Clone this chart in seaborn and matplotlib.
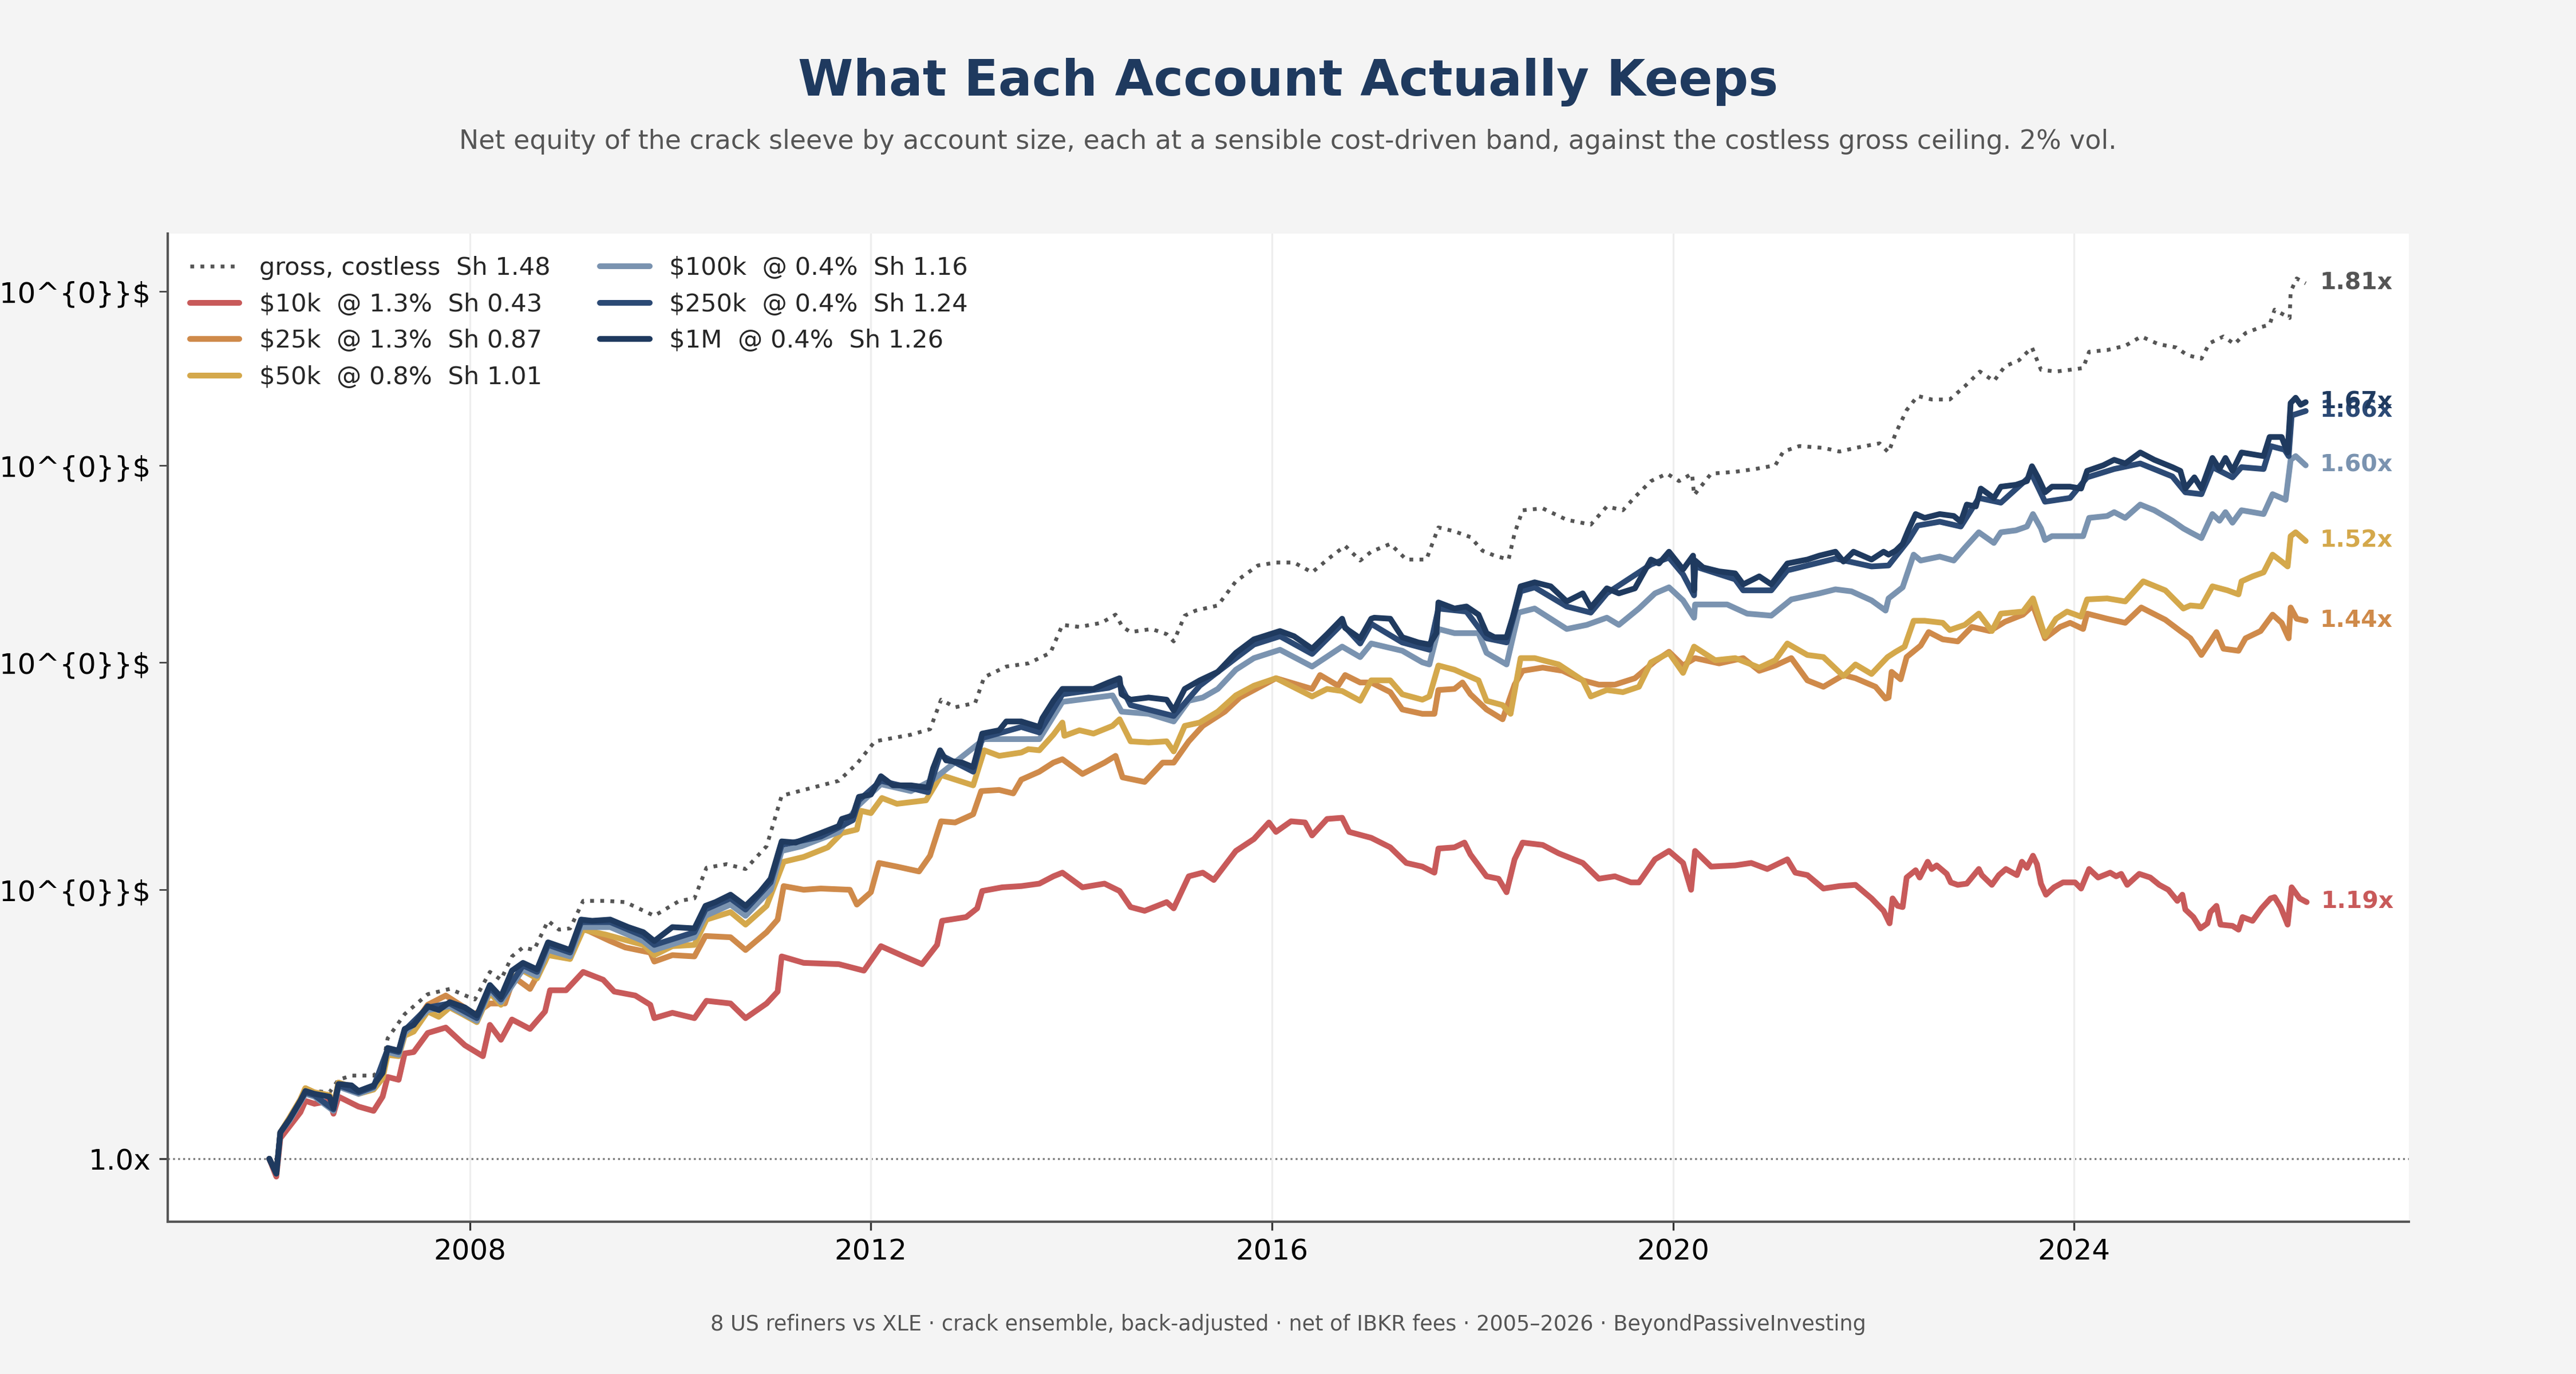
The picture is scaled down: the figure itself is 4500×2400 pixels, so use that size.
import matplotlib
matplotlib.use("Agg")
import matplotlib.pyplot as plt
from matplotlib import ticker
import pandas as pd
import seaborn as sns


# equity multiples, per account size
gross_years = [2006.00, 2006.07, 2006.11, 2006.20, 2006.31, 2006.36, 2006.45, 2006.60, 2006.69, 2006.82,
               2007.04, 2007.13, 2007.18, 2007.35, 2007.58, 2007.80, 2008.05, 2008.20, 2008.31, 2008.42,
               2008.53, 2008.64, 2008.78, 2008.89, 2009.00, 2009.13, 2009.36, 2009.55, 2009.84, 2010.09,
               2010.24, 2010.36, 2010.56, 2010.75, 2010.96, 2011.11, 2011.33, 2011.68, 2011.86, 2012.04,
               2012.40, 2012.59, 2012.70, 2012.84, 2013.04, 2013.13, 2013.35, 2013.57, 2013.79, 2013.91,
               2014.08, 2014.30, 2014.44, 2014.51, 2014.59, 2014.80, 2014.95, 2015.02, 2015.13, 2015.24,
               2015.46, 2015.64, 2015.86, 2016.04, 2016.22, 2016.40, 2016.59, 2016.73, 2016.88, 2016.99,
               2017.18, 2017.34, 2017.54, 2017.66, 2017.82, 2017.98, 2018.10, 2018.22, 2018.36, 2018.42,
               2018.50, 2018.70, 2018.94, 2019.18, 2019.34, 2019.50, 2019.62, 2019.78, 2019.94, 2020.06,
               2020.19, 2020.21, 2020.38, 2020.62, 2020.82, 2021.02, 2021.10, 2021.26, 2021.50, 2021.66,
               2021.82, 2022.06, 2022.15, 2022.22, 2022.33, 2022.44, 2022.58, 2022.76, 2022.91, 2023.06,
               2023.20, 2023.31, 2023.45, 2023.58, 2023.67, 2023.82, 2023.96, 2024.09, 2024.15, 2024.33,
               2024.51, 2024.67, 2024.84, 2025.02, 2025.13, 2025.27, 2025.35, 2025.49, 2025.60, 2025.71,
               2025.86, 2025.95, 2026.00, 2026.15, 2026.16, 2026.22, 2026.31]
gross_vals = [1.000, 0.990, 1.018, 1.027, 1.041, 1.048, 1.047, 1.046, 1.055, 1.058,
              1.058, 1.064, 1.085, 1.103, 1.118, 1.122, 1.114, 1.135, 1.129, 1.147,
              1.154, 1.152, 1.175, 1.168, 1.169, 1.191, 1.191, 1.190, 1.179, 1.191,
              1.193, 1.218, 1.221, 1.217, 1.236, 1.279, 1.284, 1.292, 1.307, 1.327,
              1.333, 1.338, 1.365, 1.358, 1.362, 1.386, 1.396, 1.399, 1.409, 1.436,
              1.434, 1.438, 1.446, 1.434, 1.429, 1.432, 1.427, 1.420, 1.445, 1.450,
              1.455, 1.479, 1.495, 1.498, 1.498, 1.488, 1.504, 1.515, 1.500, 1.509,
              1.517, 1.501, 1.501, 1.534, 1.530, 1.524, 1.510, 1.505, 1.501, 1.528,
              1.552, 1.554, 1.542, 1.537, 1.556, 1.552, 1.566, 1.583, 1.591, 1.583,
              1.591, 1.568, 1.591, 1.593, 1.596, 1.600, 1.615, 1.621, 1.619, 1.615,
              1.619, 1.624, 1.614, 1.635, 1.661, 1.677, 1.673, 1.673, 1.688, 1.705,
              1.694, 1.711, 1.718, 1.733, 1.707, 1.705, 1.707, 1.709, 1.728, 1.730,
              1.735, 1.746, 1.737, 1.733, 1.724, 1.720, 1.738, 1.746, 1.737, 1.750,
              1.757, 1.760, 1.778, 1.768, 1.800, 1.816, 1.810]

k10_years = [2006.00, 2006.07, 2006.11, 2006.31, 2006.36, 2006.45, 2006.60, 2006.64, 2006.69, 2006.89,
             2007.04, 2007.13, 2007.18, 2007.29, 2007.35, 2007.44, 2007.58, 2007.76, 2007.95, 2008.13,
             2008.20, 2008.31, 2008.42, 2008.60, 2008.75, 2008.80, 2008.96, 2009.13, 2009.33, 2009.44,
             2009.65, 2009.80, 2009.84, 2010.02, 2010.24, 2010.36, 2010.60, 2010.75, 2010.96, 2011.07,
             2011.11, 2011.33, 2011.68, 2011.93, 2012.10, 2012.33, 2012.51, 2012.66, 2012.71, 2012.95,
             2013.06, 2013.11, 2013.31, 2013.50, 2013.68, 2013.82, 2013.91, 2014.11, 2014.33, 2014.48,
             2014.59, 2014.73, 2014.95, 2015.02, 2015.17, 2015.31, 2015.42, 2015.64, 2015.82, 2015.97,
             2016.04, 2016.19, 2016.33, 2016.40, 2016.55, 2016.70, 2016.77, 2016.99, 2017.18, 2017.34,
             2017.50, 2017.62, 2017.66, 2017.82, 2017.92, 2017.98, 2018.14, 2018.26, 2018.34, 2018.42,
             2018.50, 2018.70, 2018.86, 2019.10, 2019.26, 2019.42, 2019.58, 2019.66, 2019.82, 2019.96,
             2020.10, 2020.18, 2020.22, 2020.38, 2020.62, 2020.78, 2020.94, 2021.14, 2021.22, 2021.34,
             2021.50, 2021.66, 2021.82, 2021.98, 2022.10, 2022.16, 2022.19, 2022.24, 2022.29, 2022.33,
             2022.42, 2022.46, 2022.54, 2022.58, 2022.63, 2022.73, 2022.77, 2022.84, 2022.93, 2023.05,
             2023.08, 2023.18, 2023.25, 2023.32, 2023.43, 2023.48, 2023.53, 2023.59, 2023.63, 2023.67,
             2023.72, 2023.80, 2023.89, 2024.01, 2024.07, 2024.15, 2024.24, 2024.36, 2024.42, 2024.47,
             2024.53, 2024.65, 2024.76, 2024.85, 2024.94, 2025.03, 2025.08, 2025.11, 2025.19, 2025.26,
             2025.33, 2025.36, 2025.42, 2025.46, 2025.58, 2025.64, 2025.68, 2025.78, 2025.87, 2025.96,
             2026.00, 2026.06, 2026.13, 2026.17, 2026.25, 2026.32]
k10_vals = [1.000, 0.988, 1.014, 1.032, 1.040, 1.038, 1.040, 1.031, 1.043, 1.036,
            1.033, 1.043, 1.057, 1.055, 1.074, 1.075, 1.089, 1.093, 1.080, 1.072,
            1.095, 1.084, 1.099, 1.092, 1.105, 1.121, 1.121, 1.135, 1.129, 1.120,
            1.117, 1.110, 1.100, 1.104, 1.100, 1.113, 1.111, 1.100, 1.111, 1.120,
            1.147, 1.142, 1.141, 1.136, 1.155, 1.147, 1.141, 1.156, 1.175, 1.178,
            1.185, 1.199, 1.202, 1.203, 1.205, 1.211, 1.214, 1.202, 1.205, 1.199,
            1.186, 1.183, 1.190, 1.185, 1.211, 1.214, 1.208, 1.232, 1.242, 1.256,
            1.248, 1.257, 1.256, 1.245, 1.259, 1.260, 1.248, 1.243, 1.235, 1.222,
            1.219, 1.214, 1.234, 1.235, 1.239, 1.229, 1.211, 1.209, 1.198, 1.225,
            1.239, 1.237, 1.230, 1.222, 1.209, 1.211, 1.206, 1.206, 1.225, 1.232,
            1.222, 1.200, 1.232, 1.219, 1.220, 1.222, 1.217, 1.225, 1.214, 1.212,
            1.201, 1.203, 1.204, 1.193, 1.183, 1.173, 1.193, 1.187, 1.186, 1.210,
            1.216, 1.210, 1.223, 1.217, 1.220, 1.213, 1.206, 1.204, 1.205, 1.217,
            1.212, 1.204, 1.212, 1.217, 1.212, 1.223, 1.218, 1.228, 1.221, 1.205,
            1.196, 1.202, 1.206, 1.206, 1.201, 1.217, 1.210, 1.214, 1.211, 1.213,
            1.204, 1.213, 1.210, 1.204, 1.200, 1.191, 1.196, 1.184, 1.178, 1.169,
            1.173, 1.182, 1.187, 1.172, 1.171, 1.168, 1.178, 1.175, 1.185, 1.193,
            1.194, 1.186, 1.172, 1.202, 1.193, 1.190]

k25_years = [2006.00, 2006.07, 2006.11, 2006.20, 2006.31, 2006.36, 2006.45, 2006.60, 2006.64, 2006.69,
             2006.89, 2007.04, 2007.13, 2007.18, 2007.29, 2007.35, 2007.44, 2007.58, 2007.76, 2008.05,
             2008.20, 2008.35, 2008.44, 2008.60, 2008.75, 2008.80, 2008.96, 2009.13, 2009.40, 2009.55,
             2009.80, 2009.84, 2010.02, 2010.24, 2010.35, 2010.60, 2010.75, 2010.96, 2011.07, 2011.13,
             2011.33, 2011.50, 2011.79, 2011.86, 2012.00, 2012.08, 2012.26, 2012.48, 2012.59, 2012.70,
             2012.84, 2013.02, 2013.10, 2013.28, 2013.42, 2013.50, 2013.68, 2013.82, 2013.91, 2014.11,
             2014.33, 2014.44, 2014.51, 2014.73, 2014.91, 2015.02, 2015.17, 2015.31, 2015.53, 2015.68,
             2015.90, 2016.04, 2016.40, 2016.48, 2016.66, 2016.73, 2016.88, 2016.99, 2017.18, 2017.30,
             2017.50, 2017.62, 2017.66, 2017.82, 2017.90, 2017.98, 2018.14, 2018.30, 2018.42, 2018.50,
             2018.70, 2018.90, 2019.10, 2019.26, 2019.42, 2019.62, 2019.82, 2019.96, 2020.10, 2020.22,
             2020.46, 2020.70, 2020.86, 2021.02, 2021.18, 2021.34, 2021.50, 2021.70, 2021.82, 2022.02,
             2022.12, 2022.15, 2022.18, 2022.27, 2022.33, 2022.47, 2022.55, 2022.69, 2022.84, 2022.98,
             2023.16, 2023.31, 2023.49, 2023.59, 2023.71, 2023.86, 2023.96, 2024.09, 2024.13, 2024.33,
             2024.51, 2024.67, 2024.91, 2025.06, 2025.16, 2025.27, 2025.42, 2025.49, 2025.64, 2025.71,
             2025.86, 2025.98, 2026.07, 2026.14, 2026.16, 2026.22, 2026.31]
k25_vals = [1.000, 0.990, 1.018, 1.028, 1.041, 1.049, 1.046, 1.044, 1.036, 1.053,
            1.046, 1.049, 1.058, 1.076, 1.075, 1.091, 1.095, 1.110, 1.117, 1.103,
            1.111, 1.111, 1.131, 1.122, 1.143, 1.154, 1.148, 1.169, 1.159, 1.154,
            1.150, 1.143, 1.148, 1.147, 1.163, 1.162, 1.152, 1.166, 1.176, 1.203,
            1.200, 1.201, 1.200, 1.188, 1.198, 1.222, 1.219, 1.215, 1.228, 1.257,
            1.256, 1.263, 1.283, 1.284, 1.281, 1.293, 1.300, 1.308, 1.311, 1.298,
            1.308, 1.314, 1.295, 1.291, 1.308, 1.308, 1.327, 1.341, 1.354, 1.367,
            1.378, 1.385, 1.375, 1.388, 1.378, 1.388, 1.381, 1.381, 1.372, 1.356,
            1.352, 1.352, 1.374, 1.375, 1.381, 1.370, 1.356, 1.347, 1.379, 1.392,
            1.395, 1.392, 1.383, 1.379, 1.379, 1.385, 1.401, 1.410, 1.397, 1.404,
            1.399, 1.404, 1.392, 1.397, 1.404, 1.383, 1.377, 1.388, 1.385, 1.377,
            1.366, 1.367, 1.391, 1.384, 1.405, 1.416, 1.429, 1.422, 1.420, 1.434,
            1.430, 1.439, 1.446, 1.455, 1.423, 1.434, 1.438, 1.432, 1.447, 1.442,
            1.438, 1.453, 1.441, 1.430, 1.423, 1.407, 1.429, 1.413, 1.411, 1.423,
            1.430, 1.446, 1.438, 1.423, 1.453, 1.442, 1.440]

k50_years = [2006.00, 2006.07, 2006.11, 2006.20, 2006.31, 2006.36, 2006.45, 2006.60, 2006.64, 2006.69,
             2006.82, 2006.89, 2007.04, 2007.13, 2007.18, 2007.29, 2007.35, 2007.44, 2007.58, 2007.69,
             2007.80, 2007.95, 2008.07, 2008.20, 2008.31, 2008.42, 2008.53, 2008.67, 2008.78, 2009.00,
             2009.13, 2009.36, 2009.73, 2009.84, 2010.02, 2010.24, 2010.36, 2010.60, 2010.75, 2010.96,
             2011.13, 2011.33, 2011.57, 2011.71, 2011.86, 2011.90, 2012.00, 2012.11, 2012.26, 2012.55,
             2012.64, 2012.70, 2013.02, 2013.13, 2013.28, 2013.50, 2013.57, 2013.68, 2013.82, 2013.91,
             2013.93, 2014.08, 2014.22, 2014.41, 2014.48, 2014.59, 2014.77, 2014.95, 2015.02, 2015.13,
             2015.28, 2015.46, 2015.64, 2015.82, 2016.04, 2016.40, 2016.55, 2016.70, 2016.88, 2016.99,
             2017.18, 2017.30, 2017.50, 2017.57, 2017.66, 2017.82, 2017.94, 2018.06, 2018.14, 2018.30,
             2018.38, 2018.48, 2018.62, 2018.86, 2019.10, 2019.18, 2019.34, 2019.50, 2019.66, 2019.78,
             2019.96, 2020.10, 2020.21, 2020.42, 2020.62, 2020.86, 2021.02, 2021.14, 2021.34, 2021.50,
             2021.70, 2021.82, 2021.98, 2022.14, 2022.22, 2022.31, 2022.40, 2022.51, 2022.69, 2022.76,
             2022.91, 2023.05, 2023.18, 2023.27, 2023.49, 2023.59, 2023.71, 2023.82, 2023.93, 2024.07,
             2024.13, 2024.33, 2024.51, 2024.69, 2024.91, 2025.09, 2025.16, 2025.27, 2025.38, 2025.53,
             2025.64, 2025.67, 2025.78, 2025.89, 2025.98, 2026.07, 2026.13, 2026.16, 2026.21, 2026.31]
k50_vals = [1.000, 0.990, 1.018, 1.028, 1.041, 1.049, 1.046, 1.044, 1.036, 1.053,
            1.050, 1.045, 1.048, 1.056, 1.073, 1.072, 1.087, 1.090, 1.105, 1.101,
            1.108, 1.102, 1.097, 1.119, 1.110, 1.130, 1.136, 1.130, 1.148, 1.145,
            1.168, 1.164, 1.156, 1.148, 1.155, 1.156, 1.176, 1.182, 1.172, 1.187,
            1.223, 1.227, 1.235, 1.247, 1.250, 1.266, 1.264, 1.277, 1.272, 1.275,
            1.288, 1.297, 1.288, 1.319, 1.314, 1.317, 1.320, 1.319, 1.333, 1.344,
            1.332, 1.337, 1.334, 1.341, 1.347, 1.327, 1.326, 1.327, 1.318, 1.341,
            1.344, 1.354, 1.369, 1.378, 1.385, 1.368, 1.375, 1.373, 1.364, 1.383,
            1.383, 1.370, 1.365, 1.368, 1.397, 1.393, 1.388, 1.383, 1.364, 1.360,
            1.352, 1.404, 1.404, 1.398, 1.383, 1.368, 1.374, 1.372, 1.377, 1.400,
            1.409, 1.390, 1.415, 1.402, 1.404, 1.395, 1.402, 1.418, 1.407, 1.405,
            1.387, 1.398, 1.389, 1.405, 1.410, 1.415, 1.440, 1.440, 1.438, 1.431,
            1.436, 1.447, 1.430, 1.447, 1.449, 1.462, 1.425, 1.442, 1.449, 1.444,
            1.461, 1.462, 1.459, 1.479, 1.470, 1.452, 1.455, 1.454, 1.474, 1.470,
            1.466, 1.479, 1.484, 1.488, 1.506, 1.499, 1.494, 1.525, 1.529, 1.520]

k100_years = [2006.00, 2006.07, 2006.11, 2006.20, 2006.31, 2006.36, 2006.45, 2006.64, 2006.69, 2006.89,
              2007.04, 2007.18, 2007.29, 2007.35, 2007.58, 2007.80, 2008.07, 2008.20, 2008.31, 2008.53,
              2008.67, 2008.78, 2009.00, 2009.11, 2009.40, 2009.73, 2009.84, 2010.24, 2010.35, 2010.60,
              2010.75, 2011.00, 2011.11, 2011.31, 2011.68, 2011.88, 2012.10, 2012.40, 2012.62, 2013.13,
              2013.68, 2013.91, 2014.41, 2014.50, 2014.77, 2015.02, 2015.17, 2015.31, 2015.46, 2015.64,
              2015.82, 2016.08, 2016.40, 2016.70, 2016.88, 2016.99, 2017.30, 2017.50, 2017.57, 2017.66,
              2017.82, 2018.06, 2018.14, 2018.34, 2018.46, 2018.62, 2018.94, 2019.14, 2019.34, 2019.46,
              2019.66, 2019.82, 2019.96, 2020.10, 2020.21, 2020.22, 2020.54, 2020.74, 2020.98, 2021.18,
              2021.46, 2021.62, 2021.78, 2021.98, 2022.12, 2022.15, 2022.29, 2022.40, 2022.47, 2022.66,
              2022.80, 2022.91, 2023.05, 2023.20, 2023.27, 2023.42, 2023.53, 2023.59, 2023.67, 2023.71,
              2023.78, 2023.96, 2024.09, 2024.15, 2024.33, 2024.40, 2024.51, 2024.66, 2024.80, 2024.98,
              2025.09, 2025.16, 2025.27, 2025.38, 2025.45, 2025.51, 2025.58, 2025.67, 2025.89, 2025.98,
              2026.11, 2026.16, 2026.21, 2026.31]
k100_vals = [1.000, 0.990, 1.018, 1.026, 1.039, 1.045, 1.043, 1.033, 1.050, 1.045,
             1.049, 1.075, 1.073, 1.089, 1.106, 1.109, 1.098, 1.121, 1.112, 1.137,
             1.132, 1.152, 1.147, 1.170, 1.170, 1.159, 1.152, 1.162, 1.179, 1.188,
             1.179, 1.200, 1.232, 1.236, 1.248, 1.271, 1.289, 1.283, 1.293, 1.329,
             1.329, 1.363, 1.369, 1.354, 1.352, 1.345, 1.364, 1.367, 1.375, 1.393,
             1.404, 1.412, 1.396, 1.415, 1.405, 1.418, 1.411, 1.400, 1.398, 1.432,
             1.428, 1.428, 1.409, 1.398, 1.448, 1.452, 1.432, 1.436, 1.443, 1.436,
             1.452, 1.467, 1.473, 1.460, 1.443, 1.456, 1.456, 1.447, 1.445, 1.461,
             1.467, 1.471, 1.469, 1.460, 1.450, 1.462, 1.473, 1.506, 1.500, 1.504,
             1.500, 1.513, 1.529, 1.518, 1.529, 1.531, 1.535, 1.548, 1.533, 1.521,
             1.525, 1.525, 1.525, 1.544, 1.546, 1.550, 1.544, 1.558, 1.552, 1.541,
             1.533, 1.529, 1.523, 1.548, 1.541, 1.550, 1.539, 1.552, 1.548, 1.569,
             1.563, 1.606, 1.610, 1.600]

k250_years = [2006.00, 2006.07, 2006.11, 2006.20, 2006.31, 2006.36, 2006.45, 2006.64, 2006.69, 2006.89,
              2007.04, 2007.18, 2007.29, 2007.35, 2007.58, 2007.80, 2008.07, 2008.20, 2008.31, 2008.53,
              2008.67, 2008.78, 2009.00, 2009.11, 2009.40, 2009.73, 2009.84, 2010.24, 2010.35, 2010.60,
              2010.75, 2011.00, 2011.11, 2011.50, 2011.82, 2011.88, 2012.10, 2012.57, 2012.69, 2013.02,
              2013.11, 2013.50, 2013.68, 2013.91, 2014.37, 2014.48, 2014.59, 2015.02, 2015.28, 2015.64,
              2015.82, 2016.08, 2016.40, 2016.70, 2016.88, 2016.99, 2017.30, 2017.57, 2017.66, 2017.94,
              2018.14, 2018.34, 2018.48, 2018.62, 2018.94, 2019.18, 2019.34, 2019.78, 2019.96, 2020.10,
              2020.21, 2020.22, 2020.62, 2020.70, 2020.98, 2021.14, 2021.46, 2021.62, 2021.98, 2022.15,
              2022.35, 2022.44, 2022.66, 2022.87, 2023.05, 2023.27, 2023.58, 2023.71, 2023.96, 2024.13,
              2024.40, 2024.66, 2024.98, 2025.11, 2025.27, 2025.38, 2025.58, 2025.67, 2025.89, 2025.96,
              2026.10, 2026.14, 2026.17, 2026.31]
k250_vals = [1.000, 0.990, 1.018, 1.027, 1.040, 1.046, 1.044, 1.034, 1.051, 1.046,
             1.050, 1.077, 1.075, 1.091, 1.108, 1.111, 1.100, 1.123, 1.114, 1.140,
             1.135, 1.156, 1.150, 1.174, 1.174, 1.163, 1.156, 1.166, 1.184, 1.193,
             1.184, 1.206, 1.237, 1.244, 1.258, 1.275, 1.292, 1.282, 1.315, 1.300,
             1.330, 1.340, 1.335, 1.370, 1.376, 1.380, 1.360, 1.350, 1.378, 1.404,
             1.417, 1.425, 1.408, 1.437, 1.418, 1.437, 1.419, 1.412, 1.452, 1.449,
             1.423, 1.419, 1.469, 1.473, 1.454, 1.448, 1.467, 1.496, 1.503, 1.486,
             1.465, 1.494, 1.481, 1.470, 1.470, 1.490, 1.498, 1.502, 1.494, 1.495,
             1.521, 1.536, 1.540, 1.535, 1.565, 1.560, 1.590, 1.561, 1.565, 1.587,
             1.596, 1.602, 1.588, 1.571, 1.569, 1.598, 1.587, 1.598, 1.596, 1.621,
             1.617, 1.610, 1.655, 1.660]

m1_years = [2006.00, 2006.07, 2006.11, 2006.20, 2006.31, 2006.36, 2006.45, 2006.60, 2006.64, 2006.69,
            2006.82, 2006.89, 2007.04, 2007.13, 2007.18, 2007.29, 2007.35, 2007.44, 2007.58, 2007.69,
            2007.80, 2007.95, 2008.07, 2008.20, 2008.31, 2008.42, 2008.53, 2008.67, 2008.78, 2008.89,
            2009.00, 2009.11, 2009.22, 2009.40, 2009.58, 2009.73, 2009.84, 2010.02, 2010.24, 2010.35,
            2010.45, 2010.60, 2010.75, 2010.89, 2011.00, 2011.11, 2011.25, 2011.31, 2011.50, 2011.68,
            2011.71, 2011.82, 2011.88, 2012.00, 2012.10, 2012.22, 2012.40, 2012.57, 2012.62, 2012.69,
            2012.75, 2012.91, 2013.02, 2013.11, 2013.28, 2013.35, 2013.50, 2013.68, 2013.71, 2013.82,
            2013.91, 2014.08, 2014.22, 2014.37, 2014.48, 2014.50, 2014.59, 2014.77, 2014.95, 2015.02,
            2015.13, 2015.28, 2015.46, 2015.64, 2015.82, 2016.08, 2016.22, 2016.40, 2016.55, 2016.70,
            2016.73, 2016.88, 2016.99, 2017.02, 2017.18, 2017.30, 2017.46, 2017.57, 2017.64, 2017.66,
            2017.82, 2017.94, 2018.06, 2018.14, 2018.22, 2018.34, 2018.40, 2018.48, 2018.62, 2018.78,
            2018.94, 2019.10, 2019.18, 2019.34, 2019.46, 2019.62, 2019.78, 2019.86, 2019.96, 2020.10,
            2020.20, 2020.21, 2020.22, 2020.30, 2020.46, 2020.62, 2020.70, 2020.86, 2020.98, 2021.14,
            2021.34, 2021.46, 2021.62, 2021.70, 2021.80, 2021.98, 2022.10, 2022.15, 2022.22, 2022.29,
            2022.35, 2022.42, 2022.51, 2022.66, 2022.80, 2022.87, 2022.93, 2023.02, 2023.07, 2023.20,
            2023.27, 2023.42, 2023.53, 2023.58, 2023.64, 2023.71, 2023.78, 2023.96, 2024.07, 2024.13,
            2024.29, 2024.40, 2024.51, 2024.66, 2024.80, 2024.98, 2025.06, 2025.11, 2025.20, 2025.27,
            2025.38, 2025.45, 2025.51, 2025.58, 2025.67, 2025.78, 2025.89, 2025.95, 2026.07, 2026.13,
            2026.16, 2026.21, 2026.26, 2026.31]
m1_vals = [1.000, 0.990, 1.018, 1.027, 1.040, 1.047, 1.045, 1.043, 1.035, 1.052,
           1.051, 1.047, 1.051, 1.060, 1.078, 1.076, 1.092, 1.095, 1.109, 1.106,
           1.112, 1.108, 1.102, 1.125, 1.116, 1.136, 1.142, 1.137, 1.158, 1.155,
           1.152, 1.176, 1.175, 1.176, 1.170, 1.166, 1.159, 1.170, 1.169, 1.187,
           1.190, 1.196, 1.187, 1.198, 1.209, 1.240, 1.239, 1.241, 1.247, 1.253,
           1.259, 1.262, 1.278, 1.280, 1.296, 1.288, 1.288, 1.286, 1.303, 1.319,
           1.310, 1.308, 1.304, 1.334, 1.337, 1.345, 1.345, 1.340, 1.348, 1.364,
           1.375, 1.375, 1.375, 1.381, 1.385, 1.370, 1.365, 1.367, 1.365, 1.355,
           1.375, 1.383, 1.391, 1.409, 1.422, 1.430, 1.425, 1.413, 1.427, 1.442,
           1.433, 1.423, 1.442, 1.443, 1.442, 1.424, 1.419, 1.417, 1.428, 1.458,
           1.452, 1.454, 1.446, 1.428, 1.424, 1.424, 1.443, 1.474, 1.478, 1.474,
           1.459, 1.467, 1.453, 1.472, 1.467, 1.472, 1.501, 1.497, 1.509, 1.491,
           1.505, 1.470, 1.500, 1.493, 1.489, 1.487, 1.476, 1.484, 1.476, 1.497,
           1.501, 1.505, 1.509, 1.499, 1.509, 1.501, 1.509, 1.506, 1.510, 1.517,
           1.532, 1.548, 1.544, 1.548, 1.546, 1.540, 1.558, 1.556, 1.575, 1.565,
           1.577, 1.579, 1.583, 1.599, 1.587, 1.571, 1.577, 1.577, 1.575, 1.594,
           1.600, 1.606, 1.602, 1.614, 1.606, 1.598, 1.594, 1.575, 1.587, 1.575,
           1.608, 1.596, 1.608, 1.594, 1.614, 1.612, 1.610, 1.631, 1.631, 1.614,
           1.669, 1.675, 1.667, 1.670]

series_names = ["gross", "10k", "25k", "50k", "100k", "250k", "1M"]
series_labels = ["gross, costless  Sh 1.48",
                 "$10k  @ 1.3%  Sh 0.43",
                 "$25k  @ 1.3%  Sh 0.87",
                 "$50k  @ 0.8%  Sh 1.01",
                 "$100k  @ 0.4%  Sh 1.16",
                 "$250k  @ 0.4%  Sh 1.24",
                 "$1M  @ 0.4%  Sh 1.26"]
series_colors = ["#555555", "#c85a5a", "#cf8a4a", "#d4a84b", "#7a93b0", "#2c4a75", "#1f3a5f"]
series_years = [gross_years, k10_years, k25_years, k50_years, k100_years, k250_years, m1_years]
series_vals = [gross_vals, k10_vals, k25_vals, k50_vals, k100_vals, k250_vals, m1_vals]


def build_frame():
    parts = []
    for name, yrs, vals in zip(series_names, series_years, series_vals):
        parts.append(pd.DataFrame({"year": yrs, "equity": vals, "series": name}))
    return pd.concat(parts, ignore_index=True)


sns.set_style("ticks")
plt.rcParams.update({
    "font.family": ["DejaVu Sans"],
    "text.parse_math": False,
    "figure.facecolor": "#f4f4f4",
    "axes.facecolor": "white",
    "axes.edgecolor": "#555555",
    "axes.linewidth": 1.0,
    "xtick.labelsize": 12,
    "ytick.labelsize": 12,
    "xtick.major.size": 3.5,
    "ytick.major.size": 3.5,
    "ytick.minor.size": 3.5,
    "xtick.color": "#333333",
    "ytick.color": "#333333",
    "xtick.labelcolor": "black",
    "ytick.labelcolor": "black",
})

df = build_frame()

fig, ax = plt.subplots(figsize=(15, 8), dpi=300)
fig.subplots_adjust(left=0.065, right=0.935, bottom=0.111, top=0.830)

for name, label, color in zip(series_names, series_labels, series_colors):
    sub = df[df["series"] == name]
    if name == "gross":
        sns.lineplot(data=sub, x="year", y="equity", ax=ax, color=color, linestyle=":",
                     linewidth=1.6, label=label, estimator=None, sort=False)
    else:
        sns.lineplot(data=sub, x="year", y="equity", ax=ax, color=color,
                     linewidth=2.4, label=label, estimator=None, sort=False)

ax.set_yscale("log")
ax.yaxis.set_major_formatter(ticker.FuncFormatter(lambda v, _: f"{v:.1f}x"))
ax.yaxis.set_minor_locator(ticker.MultipleLocator(0.2))
ax.xaxis.set_major_locator(ticker.MultipleLocator(4))
ax.xaxis.set_major_formatter(ticker.FormatStrFormatter("%d"))
ax.set_xlabel("")
ax.set_ylabel("")

ax.axhline(1.0, color="#777777", linestyle=":", linewidth=0.8, zorder=0)
ax.grid(axis="x", color="#eeeeee", linewidth=0.8)
ax.grid(axis="y", visible=False, which="both")
sns.despine(ax=ax)

# end-of-line labels
for name, color, yrs, vals in zip(series_names, series_colors, series_years, series_vals):
    ax.annotate(f"{vals[-1]:.2f}x", xy=(yrs[-1], vals[-1]), xytext=(6, 0),
                textcoords="offset points", ha="left", va="center",
                fontsize=9.8, fontweight="bold", color=color)

handles, labels = ax.get_legend_handles_labels()
ax.legend(handles, labels, loc="upper left", ncol=2, frameon=False, fontsize=10.4)

fig.text(0.5, 0.940, "What Each Account Actually Keeps", ha="center", va="center",
         fontsize=21, fontweight="bold", color="#1f3a5f")
fig.text(0.5, 0.897, "Net equity of the crack sleeve by account size, each at a sensible cost-driven band, "
         "against the costless gross ceiling. 2% vol.", ha="center", va="center",
         fontsize=11, color="#555555")
fig.text(0.5, 0.036, "8 US refiners vs XLE · crack ensemble, back-adjusted · net of IBKR fees · "
         "2005–2026 · BeyondPassiveInvesting", ha="center", va="center",
         fontsize=8.8, color="#555555")

fig.savefig("out.png", dpi=300, facecolor=fig.get_facecolor())
